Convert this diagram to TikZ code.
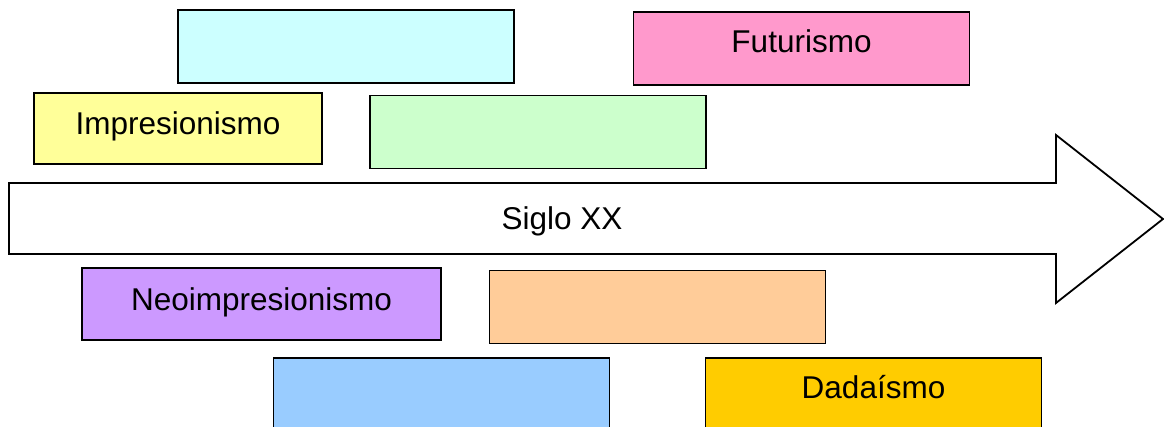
\documentclass[tikz,border=0pt]{standalone}
\usepackage{fontspec}
\setmainfont{Liberation Sans}
\definecolor{ccyan}{HTML}{CCFFFF}
\definecolor{cpink}{HTML}{FF99CC}
\definecolor{cyellow}{HTML}{FFFF99}
\definecolor{cgreen}{HTML}{CCFFCC}
\definecolor{cviolet}{HTML}{CC99FF}
\definecolor{corange}{HTML}{FFCC99}
\definecolor{cblue}{HTML}{99CCFF}
\definecolor{cgold}{HTML}{FFCC00}
\begin{document}
\begin{tikzpicture}[x=1pt,y=-1pt,
  era/.style={draw=black,line width=1.8pt,rectangle,inner sep=0pt,
    minimum width=336pt,minimum height=73pt},
  eratext/.style={font=\fontsize{31.5}{36}\selectfont,inner sep=0pt},
  arrowshape/.style={draw=black,line width=1.8pt,fill=white,line join=miter}]
\useasboundingbox (0,0) rectangle (1164,427);
\clip (0,0) rectangle (1164,427);
% timeline arrow
\draw[arrowshape] (9,183) -- (1056,183) -- (1056,135) -- (1163,219) -- (1056,303) -- (1056,254) -- (9,254) -- cycle;
\node[eratext] (siglo) at (562,221) {Siglo XX};
% boxes above
\node[era,fill=ccyan] (b1) at (346,46.5) {};
\node[era,fill=cpink] (fut) at (801.5,48.5) {};
\node[eratext] (futt) at (801.5,41.5) {Futurismo};
\node[era,fill=cyellow,minimum width=288pt,minimum height=71pt] (imp) at (178,128.5) {};
\node[eratext] (impt) at (178,126.5) {Impresionismo};
\node[era,fill=cgreen] (b2) at (538,132) {};
% boxes below
\node[era,fill=cviolet,minimum width=359pt,minimum height=72pt] (neo) at (261.5,304) {};
\node[eratext] (neot) at (261.5,302) {Neoimpresionismo};
\node[era,fill=corange] (b3) at (657.5,307) {};
\node[era,fill=cblue] (b4) at (441.5,394.5) {};
\node[era,fill=cgold] (dada) at (873.5,394.5) {};
\node[eratext] (dadat) at (873.5,387.5) {Dadaísmo};
\end{tikzpicture}
\end{document}
